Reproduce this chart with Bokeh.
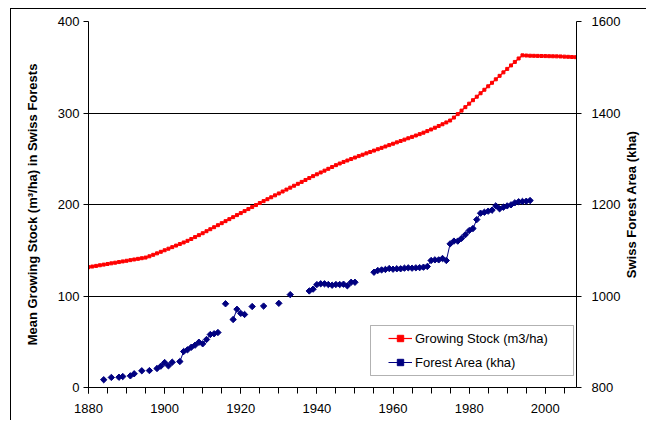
import math
from bokeh.plotting import figure
from bokeh.models import (Range1d, LinearAxis, SingleIntervalTicker, FixedTicker,
                          Legend, LegendItem, BoxAnnotation, ColumnDataSource, Label)
from bokeh.embed import file_html
from bokeh.resources import INLINE

# ---- data ----
gs_years = list(range(1880, 2009))
gs_values = [
    131.5, 132.2, 132.9, 133.6, 134.3, 135.0, 135.7, 136.4, 137.1, 137.8,
    138.5, 139.2, 139.9, 140.6, 141.3, 142.0, 143.4, 145.0, 146.6, 148.3,
    150.0, 151.7, 153.4, 155.1, 156.8, 158.5, 160.3, 162.3, 164.4, 166.5,
    168.6, 170.8, 173.0, 175.2, 177.4, 179.6, 181.8, 184.0, 186.2, 188.4,
    190.6, 192.8, 195.0, 197.2, 199.4, 201.6, 203.7, 205.8, 207.9, 210.0,
    212.1, 214.2, 216.3, 218.4, 220.5, 222.6, 224.7, 226.8, 228.9, 231.0,
    233.0, 235.0, 237.0, 239.0, 241.0, 243.0, 244.8, 246.5, 248.1, 249.7,
    251.3, 252.9, 254.4, 255.9, 257.4, 258.9, 260.4, 261.9, 263.4, 264.9,
    266.4, 267.9, 269.4, 270.9, 272.4, 273.9, 275.4, 276.9, 278.5, 280.2,
    282.0, 283.9, 285.8, 287.7, 289.7, 291.8, 295.0, 298.8, 302.6, 306.4,
    310.2, 314.0, 317.8, 321.6, 325.4, 329.2, 333.0, 336.8, 340.6, 344.4,
    348.2, 352.0, 355.8, 359.6, 363.0, 362.8, 362.6, 362.5, 362.4, 362.3,
    362.2, 362.1, 362.0, 361.9, 361.8, 361.6, 361.4, 361.2, 361.0,
]

fa_years = [1884, 1886, 1888, 1889, 1891, 1892, 1894, 1896, 1898, 1899,
            1900, 1901, 1902, 1904, 1905, 1906, 1907, 1908, 1909, 1910,
            1911, 1912, 1913, 1914, 1916, 1918, 1919, 1920, 1921, 1923,
            1926, 1930, 1933, 1938, 1939, 1940, 1941, 1942, 1943, 1944,
            1945, 1946, 1947, 1948, 1949, 1950,
            1955, 1956, 1957, 1958, 1959, 1960, 1961, 1962, 1963, 1964,
            1965, 1966, 1967, 1968, 1969, 1970, 1971, 1972, 1973, 1974,
            1975, 1976, 1977, 1978, 1979, 1980, 1981, 1982, 1983, 1984,
            1985, 1986, 1987, 1988, 1989, 1990, 1991, 1992, 1993, 1994,
            1995, 1996]
fa_values = [817, 822, 822.5, 824, 825.5, 830, 836.5, 837, 841.5, 846.6,
             854.6, 847.4, 855.3, 856.8, 878.7, 882.4, 888, 892.5, 899, 895.5,
             904.9, 915.8, 917.4, 920.2, 983, 948.6, 971, 962, 959.6, 977,
             978, 984, 1003, 1011, 1015, 1025, 1026.7, 1026.7, 1025.1, 1023.6,
             1025.1, 1025.1, 1025.8, 1022.3, 1030, 1030,
             1052, 1055.7, 1057, 1058, 1060, 1058.6, 1059.5, 1059.5, 1060.8, 1061.6,
             1060.8, 1061.6, 1062, 1063, 1064.5, 1077.6, 1079, 1079, 1082, 1077.6,
             1114, 1120, 1120, 1126, 1134, 1143, 1147.5, 1167, 1181, 1183,
             1185.4, 1187.5, 1197, 1190.6, 1194, 1197, 1199.3, 1203.7, 1206, 1206.6,
             1207.2, 1208.7]

left_ticks = [0, 100, 200, 300, 400]
right_ticks = [800, 1000, 1200, 1400, 1600]

# line for forest area: break where years are not consecutive
fa_line_x, fa_line_y = [], []
for i, (yr, v) in enumerate(zip(fa_years, fa_values)):
    if i > 0 and yr - fa_years[i - 1] > 1:
        fa_line_x.append(float("nan"))
        fa_line_y.append(float("nan"))
    fa_line_x.append(yr)
    fa_line_y.append(v)

FONT = "Liberation Sans"

p = figure(width=636, height=412, output_backend="svg", toolbar_location=None,
           x_range=Range1d(1880, 2008.2), y_range=Range1d(0, 400),
           min_border_left=77, min_border_right=71, min_border_top=12,
           min_border_bottom=34, background_fill_color="white",
           border_fill_color="white")
p.styles = {"margin-left": "10px", "margin-top": "8px",
            "border-top": "1px solid black", "border-left": "1px solid black"}
p.extra_y_ranges = {"area": Range1d(800, 1600)}
p.outline_line_color = None

# x axis
p.xaxis.ticker = SingleIntervalTicker(interval=20, num_minor_ticks=4)
p.xaxis.major_tick_out = 6
p.xaxis.major_tick_in = 0
p.xaxis.minor_tick_out = 6
p.xaxis.minor_tick_in = 0
p.xaxis.major_label_standoff = 10
p.xgrid.grid_line_color = None

# left axis
p.yaxis.ticker = FixedTicker(ticks=left_ticks)
p.yaxis.axis_label = "Mean Growing Stock (m\u00b3/ha) in Swiss Forests"
p.yaxis.major_tick_out = 5
p.yaxis.major_tick_in = 0
p.yaxis.major_label_standoff = 4
p.yaxis.axis_label_standoff = 15
p.ygrid.ticker = FixedTicker(ticks=left_ticks)
p.ygrid.grid_line_color = "black"
p.ygrid.grid_line_width = 1

# right axis (ticks and labels)
ra = LinearAxis(y_range_name="area", ticker=FixedTicker(ticks=right_ticks))
ra.major_tick_out = 5
ra.major_tick_in = 0
ra.major_label_standoff = 10
p.add_layout(ra, "right")

for ax in [p.xaxis[0], p.yaxis[0], ra]:
    ax.axis_line_color = "black"
    ax.major_tick_line_color = "black"
    ax.minor_tick_line_color = "black" if ax is p.xaxis[0] else None
    ax.major_label_text_font = FONT
    ax.major_label_text_font_size = "13px"
    ax.major_label_text_color = "black"
    ax.axis_label_text_font = FONT
    ax.axis_label_text_font_size = "13px"
    ax.axis_label_text_font_style = "bold"
    ax.axis_label_text_color = "black"

# right axis title in the right side panel, reading bottom-to-top
rtitle = Label(x=8, y=183, x_units="screen", y_units="screen",
               text="Swiss Forest Area (kha)", angle=math.pi / 2,
               text_align="center", text_baseline="middle",
               text_font=FONT, text_font_size="13px", text_font_style="bold",
               text_color="black")
p.add_layout(rtitle, "right")

# data
gs_src = ColumnDataSource(dict(x=gs_years, y=gs_values))
gs_line = p.line("x", "y", source=gs_src, line_color="#FF0000", line_width=1.2)
gs_pts = p.scatter("x", "y", source=gs_src, marker="square", size=3,
                   fill_color="#FF0000", line_color="#FF0000")

fa_line = p.line(fa_line_x, fa_line_y, y_range_name="area", line_color="#000080",
                 line_width=1)
fa_pts = p.scatter(fa_years, fa_values, y_range_name="area", marker="square",
                   angle=math.pi / 4, size=4.5, fill_color="#000080",
                   line_color="#000080")

# legend frame (frame-relative screen offsets)
box = BoxAnnotation(left=282, right=485, top=62, bottom=12,
                    left_units="screen", right_units="screen",
                    top_units="screen", bottom_units="screen",
                    fill_color="white", fill_alpha=1.0,
                    line_color="black", line_width=1)
p.add_layout(box)

legend = Legend(items=[LegendItem(label="Growing Stock (m3/ha)", renderers=[gs_line, gs_pts]),
                       LegendItem(label="Forest Area (kha)", renderers=[fa_line, fa_pts])],
                location=(294, 11), orientation="vertical",
                padding=6, spacing=8, margin=0,
                label_height=16, glyph_height=16, glyph_width=24,
                label_standoff=3,
                label_text_font=FONT, label_text_font_size="13px",
                label_text_color="black",
                border_line_alpha=0, background_fill_alpha=0)
p.add_layout(legend, "center")

open("out.html", "w").write(file_html(p, INLINE))
